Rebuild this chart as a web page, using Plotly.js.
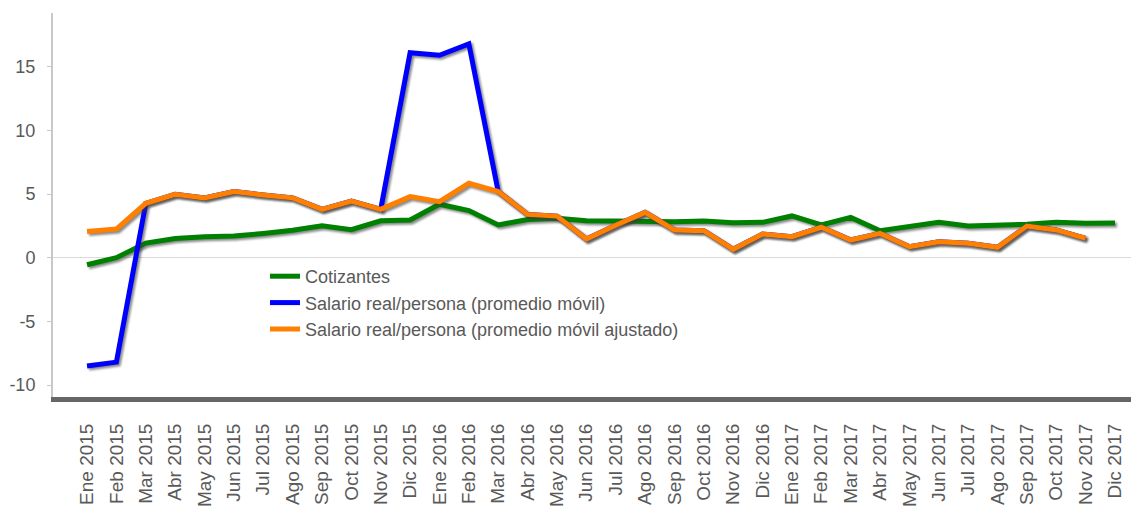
<!DOCTYPE html>
<html>
<head>
<meta charset="utf-8">
<script src="https://cdn.plot.ly/plotly-3.0.1.min.js"></script>
<style>
  html, body { margin: 0; padding: 0; background: #fff; }
  #chart { width: 1133px; height: 508px; }
  .scatterlayer .trace path.js-line { filter: drop-shadow(2px 2px 1px rgba(60,60,60,0.6)); }
</style>
</head>
<body>
<div id="chart"></div>
<script>
const categories = [
  "Ene 2015","Feb 2015","Mar 2015","Abr 2015","May 2015","Jun 2015","Jul 2015","Ago 2015","Sep 2015","Oct 2015","Nov 2015","Dic 2015",
  "Ene 2016","Feb 2016","Mar 2016","Abr 2016","May 2016","Jun 2016","Jul 2016","Ago 2016","Sep 2016","Oct 2016","Nov 2016","Dic 2016",
  "Ene 2017","Feb 2017","Mar 2017","Abr 2017","May 2017","Jun 2017","Jul 2017","Ago 2017","Sep 2017","Oct 2017","Nov 2017","Dic 2017"
];

const cotizantes = [
  -0.55, 0.0, 1.15, 1.5, 1.65, 1.7, 1.9, 2.15, 2.5, 2.2, 2.9, 2.96,
  4.2, 3.7, 2.57, 3.0, 3.1, 2.9, 2.88, 2.83, 2.83, 2.88, 2.75, 2.78,
  3.28, 2.57, 3.17, 2.12, 2.44, 2.78, 2.49, 2.52, 2.62, 2.78, 2.7, 2.72
];

const salarioMovil = [
  -8.5, -8.2, 4.27, 4.98, 4.7, 5.2, 4.93, 4.7, 3.8, 4.45, 3.8, 16.1,
  15.9, 16.8, 5.2, 3.4, 3.27, 1.47, 2.55, 3.56, 2.18, 2.12, 0.66, 1.86,
  1.65, 2.39, 1.39, 1.91, 0.86, 1.26, 1.13, 0.82, 2.49, 2.18, 1.52, null
];

const salarioAjustado = [
  2.05, 2.25, 4.27, 4.98, 4.7, 5.2, 4.93, 4.7, 3.8, 4.45, 3.8, 4.8,
  4.4, 5.85, 5.2, 3.4, 3.27, 1.47, 2.55, 3.56, 2.18, 2.12, 0.66, 1.86,
  1.65, 2.39, 1.39, 1.91, 0.86, 1.26, 1.13, 0.82, 2.49, 2.18, 1.52, null
];

const yTicks = [-10, -5, 0, 5, 10, 15];

const seriesNames = [
  "Cotizantes",
  "Salario real/persona (promedio móvil)",
  "Salario real/persona (promedio móvil ajustado)"
];
const seriesColors = ["#008000", "#0000ff", "#ff8000"];
const seriesData = [cotizantes, salarioMovil, salarioAjustado];

const traces = seriesData.map((vals, i) => ({
  type: "scatter",
  mode: "lines",
  x: categories,
  y: vals,
  name: seriesNames[i],
  line: { color: seriesColors[i], width: 5 },
  connectgaps: false,
  hoverinfo: "x+y+name"
}));

const font = "Liberation Sans, Arial, sans-serif";

const layout = {
  width: 1133,
  height: 508,
  margin: { l: 53, r: 2, t: 13, b: 111 },
  paper_bgcolor: "#ffffff",
  plot_bgcolor: "#ffffff",
  font: { family: font, color: "#595959" },
  showlegend: true,
  legend: {
    x: (265 - 53) / 1078,
    y: (397 - 258) / 384,
    xanchor: "left",
    yanchor: "top",
    font: { family: font, size: 18, color: "#595959" },
    bgcolor: "rgba(0,0,0,0)",
    tracegroupgap: 0,
    itemwidth: 30
  },
  xaxis: {
    type: "category",
    range: [-1.158, 35.545],
    tickangle: -90,
    tickfont: { family: font, size: 19, color: "#595959" },
    showgrid: false,
    zeroline: false,
    showline: true,
    linecolor: "#666666",
    linewidth: 5,
    ticks: "",
    ticklabelstandoff: 14,
    fixedrange: true
  },
  yaxis: {
    range: [-10.94, 19.22],
    tickvals: yTicks,
    ticktext: yTicks.map(String),
    tickfont: { family: font, size: 18, color: "#595959" },
    showgrid: false,
    zeroline: true,
    zerolinecolor: "#d9d9d9",
    zerolinewidth: 1.5,
    showline: true,
    linecolor: "#c8c8c8",
    linewidth: 2,
    ticks: "outside",
    ticklen: 4,
    tickcolor: "#c8c8c8",
    tickwidth: 1,
    ticklabelstandoff: 8,
    fixedrange: true
  }
};

Plotly.newPlot("chart", traces, layout, { displayModeBar: false, staticPlot: true });
</script>
</body>
</html>
